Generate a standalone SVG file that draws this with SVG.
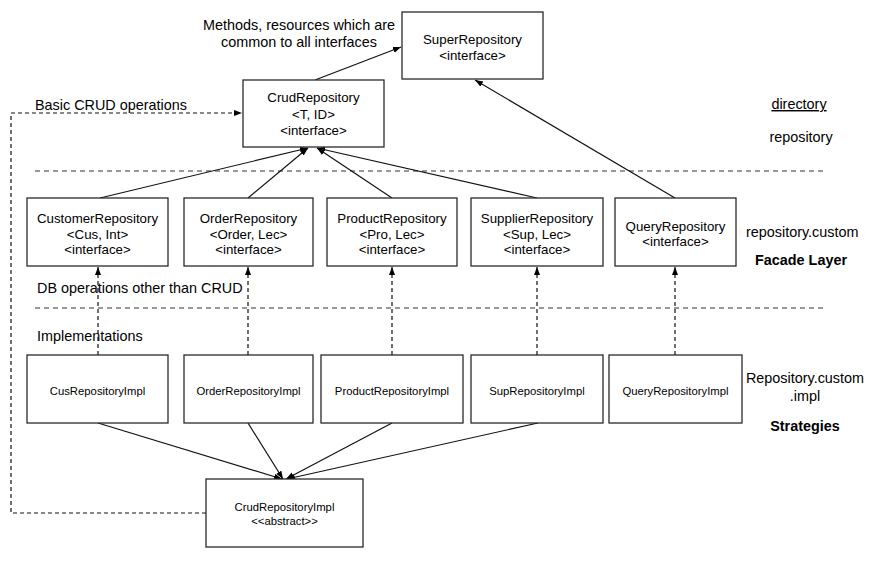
<svg xmlns="http://www.w3.org/2000/svg" width="883" height="561" viewBox="0 0 883 561">
  <style>
    text { font-family: "Liberation Sans", Arial, sans-serif; fill: #000; }
    .box { fill: #fff; stroke: #2a2a2a; stroke-width: 1.3; }
    .t13 { font-size: 13.3px; text-anchor: middle; }
    .t11 { font-size: 11.3px; text-anchor: middle; }
    .ann { font-size: 14.4px; }
    .mid { text-anchor: middle; }
    .bold { font-weight: bold; }
    .solid { fill: none; stroke: #111; stroke-width: 1.2; marker-end: url(#arrow); }
    .dash { fill: none; stroke: #111; stroke-width: 1.2; stroke-dasharray: 4 3; }
    .dasharr { marker-end: url(#arrow); }
    .sep { fill: none; stroke: #333; stroke-width: 1.2; stroke-dasharray: 5 4; }
  </style>
  <defs>
    <marker id="arrow" markerUnits="userSpaceOnUse" markerWidth="9" markerHeight="7" refX="8" refY="3" orient="auto">
      <path d="M0,0 L8,3 L0,6 z" fill="#000"/>
    </marker>
  </defs>
  <rect width="883" height="561" fill="#fff"/>

  <g id="separators">
    <line class="sep" x1="35" y1="171" x2="825" y2="171"/>
    <line class="sep" x1="35" y1="308" x2="825" y2="308"/>
  </g>

  <g id="labels">
    <text class="ann mid" x="299" y="30">Methods, resources which are</text>
    <text class="ann mid" x="299" y="47">common to all interfaces</text>
    <text class="ann" x="35" y="110">Basic CRUD operations</text>
    <text class="ann mid" x="799" y="109" text-decoration="underline">directory</text>
    <text class="ann mid" x="801" y="142">repository</text>
    <text class="ann" x="746" y="237">repository.custom</text>
    <text class="ann mid bold" x="801" y="265">Facade Layer</text>
    <text class="ann" x="37" y="293">DB operations other than CRUD</text>
    <text class="ann" x="37" y="341">Implementations</text>
    <text class="ann mid" x="805" y="383">Repository.custom</text>
    <text class="ann mid" x="805" y="401">.impl</text>
    <text class="ann mid bold" x="805" y="431">Strategies</text>
  </g>

  <g id="connectors">
    <line class="solid" x1="315" y1="80" x2="401" y2="47"/>
    <line class="solid" x1="675" y1="198" x2="475" y2="80"/>
    <line class="solid" x1="100" y1="198" x2="308" y2="148"/>
    <line class="solid" x1="248" y1="198" x2="308" y2="148"/>
    <line class="solid" x1="392" y1="198" x2="317" y2="148"/>
    <line class="solid" x1="537" y1="198" x2="317" y2="148"/>
    <line class="dash dasharr" x1="98" y1="355" x2="98" y2="267"/>
    <line class="dash dasharr" x1="248" y1="355" x2="248" y2="267"/>
    <line class="dash dasharr" x1="392" y1="355" x2="392" y2="267"/>
    <line class="dash dasharr" x1="537" y1="355" x2="537" y2="267"/>
    <line class="dash dasharr" x1="675" y1="355" x2="675" y2="267"/>
    <line class="solid" x1="98" y1="423" x2="282" y2="479"/>
    <line class="solid" x1="248" y1="423" x2="283" y2="479"/>
    <line class="solid" x1="392" y1="423" x2="286" y2="479"/>
    <line class="solid" x1="538" y1="423" x2="287" y2="479"/>
    <polyline class="dash dasharr" points="206,513 11,513 11,113 242,113"/>
  </g>

  <g id="super-repository">
    <rect class="box" x="402" y="12" width="141" height="67"/>
    <text class="t13" x="472.5" y="44">SuperRepository</text>
    <text class="t13" x="472.5" y="60">&lt;interface&gt;</text>
  </g>
  <g id="crud-repository">
    <rect class="box" x="243" y="80" width="141" height="67"/>
    <text class="t13" x="313.5" y="102">CrudRepository</text>
    <text class="t13" x="313.5" y="119">&lt;T, ID&gt;</text>
    <text class="t13" x="313.5" y="135">&lt;interface&gt;</text>
  </g>

  <g id="customer-repository">
    <rect class="box" x="27" y="198" width="141" height="68"/>
    <text class="t13" x="97.5" y="223">CustomerRepository</text>
    <text class="t13" x="97.5" y="239">&lt;Cus, Int&gt;</text>
    <text class="t13" x="97.5" y="254">&lt;interface&gt;</text>
  </g>
  <g id="order-repository">
    <rect class="box" x="184" y="198" width="129" height="68"/>
    <text class="t13" x="248.5" y="223">OrderRepository</text>
    <text class="t13" x="248.5" y="239">&lt;Order, Lec&gt;</text>
    <text class="t13" x="248.5" y="254">&lt;interface&gt;</text>
  </g>
  <g id="product-repository">
    <rect class="box" x="327" y="198" width="130" height="68"/>
    <text class="t13" x="392" y="223">ProductRepository</text>
    <text class="t13" x="392" y="239">&lt;Pro, Lec&gt;</text>
    <text class="t13" x="392" y="254">&lt;interface&gt;</text>
  </g>
  <g id="supplier-repository">
    <rect class="box" x="471" y="198" width="132" height="68"/>
    <text class="t13" x="537" y="223">SupplierRepository</text>
    <text class="t13" x="537" y="239">&lt;Sup, Lec&gt;</text>
    <text class="t13" x="537" y="254">&lt;interface&gt;</text>
  </g>
  <g id="query-repository">
    <rect class="box" x="615" y="198" width="121" height="68"/>
    <text class="t13" x="675.5" y="231">QueryRepository</text>
    <text class="t13" x="675.5" y="246">&lt;interface&gt;</text>
  </g>

  <g id="cus-repository-impl">
    <rect class="box" x="27" y="355" width="141" height="68"/>
    <text class="t11" x="97.5" y="395">CusRepositoryImpl</text>
  </g>
  <g id="order-repository-impl">
    <rect class="box" x="184" y="355" width="129" height="68"/>
    <text class="t11" x="248.5" y="395">OrderRepositoryImpl</text>
  </g>
  <g id="product-repository-impl">
    <rect class="box" x="321" y="355" width="142" height="68"/>
    <text class="t11" x="392" y="395">ProductRepositoryImpl</text>
  </g>
  <g id="sup-repository-impl">
    <rect class="box" x="471" y="355" width="132" height="68"/>
    <text class="t11" x="537" y="395">SupRepositoryImpl</text>
  </g>
  <g id="query-repository-impl">
    <rect class="box" x="609" y="355" width="133" height="68"/>
    <text class="t11" x="675.5" y="395">QueryRepositoryImpl</text>
  </g>

  <g id="crud-repository-impl">
    <rect class="box" x="206" y="479" width="157" height="68"/>
    <text class="t11" x="284.5" y="511">CrudRepositoryImpl</text>
    <text class="t11" x="284.5" y="525">&lt;&lt;abstract&gt;&gt;</text>
  </g>
</svg>
